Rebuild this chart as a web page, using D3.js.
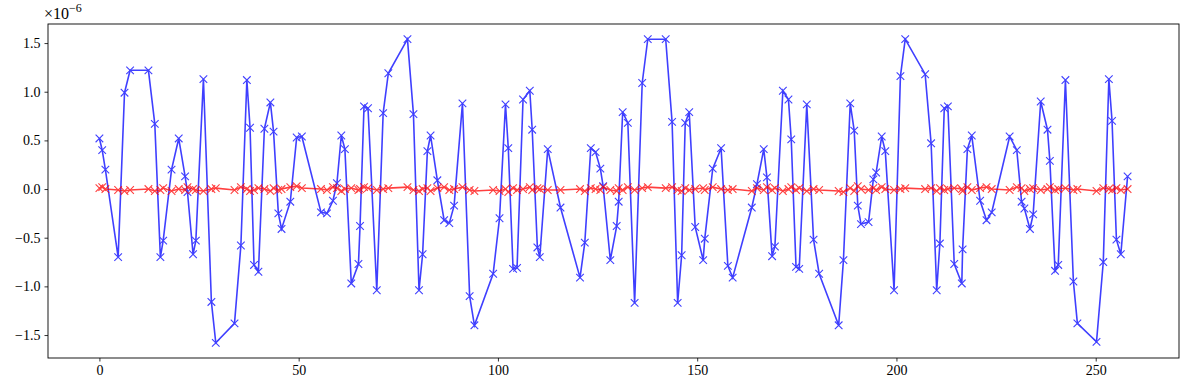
<!DOCTYPE html>
<html lang="en">
<head>
    <meta charset="UTF-8">
    <title>Signal</title>
    <style>
        body { margin: 0; background: #fff; }
        text { font-family: "Liberation Serif", "DejaVu Serif", serif; }
    </style>
</head>
<body>
    <script src="https://d3js.org/d3.v7.min.js"></script>
    <script>

        // positions (indices)
        var xs = [0, 0.7, 1.5, 4.7, 6.3, 7.7, 12.3, 13.9, 15.3, 16,
            18.1, 19.9, 21.5, 22.1, 23.5, 24.2, 26.1, 28.1, 29.2, 33.9,
            35.5, 37.0, 37.8, 38.8, 39.9, 41.4, 42.9, 43.7, 44.9, 45.7,
            47.9, 49.5, 50.8, 55.6, 57.1, 58.6, 59.6, 60.7, 61.6, 63.2,
            65.0, 65.4, 66.4, 67.4, 69.6, 71.2, 72.5, 77.3, 78.8, 80.2,
            81.1, 82.3, 83.1, 84.8, 86.5, 87.8, 89, 91.1, 92.9, 94.1,
            98.8, 100.4, 101.9, 102.6, 103.8, 104.8, 106.3, 108.0, 108.6, 109.9,
            110.5, 112.5, 115.7, 120.6, 121.8, 123.3, 124.5, 125.7, 126.4, 128.2,
            129.8, 130.3, 131.3, 132.6, 134.3, 136.2, 137.6, 142.1, 143.7, 145.1,
            146.1, 147.0, 148.0, 149.5, 151.5, 151.9, 153.9, 156.0, 157.7, 158.9,
            163.7, 165.0, 166.7, 167.5, 168.8, 169.5, 171.5, 172.9, 173.6, 174.8,
            175.6, 177.5, 179.2, 180.6, 185.5, 186.7, 188.4, 189.4, 190.3, 191.1,
            193.0, 194.2, 194.9, 196.3, 197.2, 199.4, 201.0, 202.2, 207.2, 208.7,
            210.1, 210.9, 212.0, 212.9, 214.5, 216.4, 216.6, 217.8, 218.9, 221.0,
            222.6, 223.9, 228.4, 230.2, 231.4, 232.1, 233.5, 234.3, 236.2, 237.9,
            238.5, 239.8, 240.6, 242.4, 244.4, 245.4, 250.2, 251.9, 253.3, 254.1,
            255.2, 256.3, 258.0];

        // blue series, in units of 1e-6
        var blueVals = [0.52, 0.40, 0.20, -0.70, 0.99, 1.22, 1.22, 0.67, -0.70, -0.53,
            0.20, 0.52, 0.13, -0.03, -0.67, -0.53, 1.13, -1.16, -1.58, -1.38,
            -0.58, 1.12, 0.63, -0.78, -0.85, 0.62, 0.89, 0.59, -0.25, -0.41,
            -0.13, 0.53, 0.54, -0.24, -0.25, -0.12, 0.06, 0.55, 0.41, -0.97,
            -0.77, -0.38, 0.85, 0.83, -1.04, 0.78, 1.19, 1.54, 0.77, -1.04,
            -0.67, 0.39, 0.55, 0.09, -0.32, -0.35, -0.17, 0.88, -1.10, -1.40,
            -0.87, -0.30, 0.87, 0.42, -0.82, -0.81, 0.92, 1.01, 0.61, -0.60,
            -0.70, 0.41, -0.19, -0.91, -0.55, 0.42, 0.38, 0.21, 0.03, -0.73,
            -0.38, -0.13, 0.79, 0.68, -1.17, 1.09, 1.54, 1.54, 0.69, -1.17,
            -0.68, 0.68, 0.79, -0.39, -0.73, -0.51, 0.21, 0.42, -0.79, -0.91,
            -0.19, 0.05, 0.41, 0.12, -0.69, -0.59, 1.01, 0.92, 0.51, -0.80,
            -0.82, 0.87, -0.52, -0.87, -1.40, -0.73, 0.88, 0.60, -0.17, -0.36,
            -0.34, 0.10, 0.17, 0.54, 0.39, -1.04, 1.16, 1.54, 1.18, 0.47,
            -1.04, -0.56, 0.83, 0.85, -0.77, -0.97, -0.62, 0.41, 0.55, -0.12,
            -0.32, -0.24, 0.54, 0.40, -0.13, -0.20, -0.41, -0.26, 0.90, 0.61,
            0.29, -0.84, -0.78, 1.12, -0.95, -1.38, -1.57, -0.75, 1.13, 0.70,
            -0.52, -0.67, 0.13];

        // red series, in units of 1e-6 (stays close to zero)
        var redVals = [0.01, 0.02, 0.00, -0.01, -0.02, -0.01, 0.00, -0.02, -0.01, 0.01,
            -0.02, 0.00, -0.01, 0.02, 0.00, -0.01, -0.02, 0.00, 0.01, -0.01,
            0.02, 0.00, -0.02, -0.01, 0.01, 0.00, -0.02, 0.01, -0.01, 0.00,
            0.02, 0.03, 0.01, 0.00, -0.01, 0.02, 0.01, -0.02, 0.00, 0.01,
            -0.01, 0.00, 0.02, 0.01, -0.01, 0.00, 0.01, 0.02, -0.01, -0.02,
            0.00, 0.01, -0.02, 0.01, 0.02, -0.01, 0.00, 0.02, -0.01, -0.02,
            -0.01, -0.02, 0.00, -0.03, 0.01, -0.01, 0.00, 0.02, -0.01, 0.01,
            0.00, -0.01, -0.01, 0.00, -0.02, 0.01, 0.00, -0.01, 0.02, -0.01,
            -0.02, 0.01, -0.01, 0.02, -0.01, 0.01, 0.02, 0.01, 0.02, -0.01,
            -0.02, 0.01, -0.01, 0.00, 0.01, -0.01, 0.02, 0.00, -0.01, 0.00,
            -0.02, 0.01, -0.01, 0.02, -0.01, 0.01, -0.02, 0.00, 0.02, -0.01,
            0.01, -0.02, 0.00, -0.01, -0.02, -0.03, 0.01, -0.02, 0.03, 0.00,
            -0.01, 0.01, -0.01, 0.02, 0.00, -0.01, 0.00, 0.01, 0.00, 0.01,
            -0.02, 0.01, -0.01, 0.00, 0.01, 0.00, -0.02, 0.02, -0.01, 0.01,
            0.02, 0.00, -0.01, 0.02, 0.01, -0.02, 0.00, 0.01, -0.01, 0.00,
            0.02, -0.01, 0.00, 0.01, -0.01, 0.00, -0.02, 0.01, 0.00, -0.01,
            0.01, -0.01, 0.00];

        var xTicks = [0, 50, 100, 150, 200, 250];
        var yTicks = [-1.5, -1.0, -0.5, 0.0, 0.5, 1.0, 1.5];

        var width = 1189, height = 390;
        var margin = {top: 24, right: 10, bottom: 32, left: 48};

        var svg = d3.select("body").append("svg")
            .attr("width", width)
            .attr("height", height);

        // matplotlib-like 5% padding
        var xMin = d3.min(xs), xMax = d3.max(xs);
        var yMin = d3.min(blueVals), yMax = d3.max(blueVals);
        var xPad = (xMax - xMin) * 0.05, yPad = (yMax - yMin) * 0.05;

        var x = d3.scaleLinear()
            .domain([xMin - xPad, xMax + xPad])
            .range([margin.left, width - margin.right]);
        var y = d3.scaleLinear()
            .domain([yMin - yPad, yMax + yPad])
            .range([height - margin.bottom, margin.top]);

        var fmt = function(d) { return d3.format(".1f")(d).replace("-", "\u2212"); };

        var xAxis = svg.append("g")
            .attr("transform", "translate(0," + (height - margin.bottom) + ")")
            .call(d3.axisBottom(x).tickValues(xTicks).tickSize(3.5).tickPadding(4).tickFormat(d3.format("d")));
        var yAxis = svg.append("g")
            .attr("transform", "translate(" + margin.left + ",0)")
            .call(d3.axisLeft(y).tickValues(yTicks).tickSize(3.5).tickPadding(4).tickFormat(fmt));

        [xAxis, yAxis].forEach(function(g) {
            g.select(".domain").remove();
            g.selectAll("line").attr("stroke", "#000").attr("stroke-width", 0.8);
            g.selectAll("text").attr("font-size", 14).attr("fill", "#000")
                .style("font-family", "'Liberation Serif', serif");
        });

        // frame
        svg.append("rect")
            .attr("x", margin.left).attr("y", margin.top)
            .attr("width", width - margin.left - margin.right)
            .attr("height", height - margin.top - margin.bottom)
            .attr("fill", "none").attr("stroke", "#000").attr("stroke-width", 0.9);

        // offset text
        var off = svg.append("text")
            .attr("x", margin.left - 4).attr("y", margin.top - 5)
            .style("font-size", "16px");
        off.append("tspan").text("\u00d710");
        off.append("tspan").attr("dy", -7).style("font-size", "12px").text("\u22126");

        function drawSeries(vals, color) {
            var pts = xs.map(function(d, i) { return [d, vals[i]]; });
            var g = svg.append("g").attr("opacity", 0.75);
            g.append("path")
                .datum(pts)
                .attr("fill", "none")
                .attr("stroke", color)
                .attr("stroke-width", 1.6)
                .attr("d", d3.line().x(function(d) { return x(d[0]); }).y(function(d) { return y(d[1]); }));
            var s = 3.8;
            g.selectAll(".m").data(pts).enter().append("path")
                .attr("fill", "none")
                .attr("stroke", color)
                .attr("stroke-width", 1.1)
                .attr("d", function(d) {
                    var cx = x(d[0]), cy = y(d[1]);
                    return "M" + (cx - s) + "," + (cy - s) + "L" + (cx + s) + "," + (cy + s) +
                        "M" + (cx - s) + "," + (cy + s) + "L" + (cx + s) + "," + (cy - s);
                });
        }

        drawSeries(blueVals, "#0000ff");
        drawSeries(redVals, "#ff0000");

    </script>
</body>
</html>
